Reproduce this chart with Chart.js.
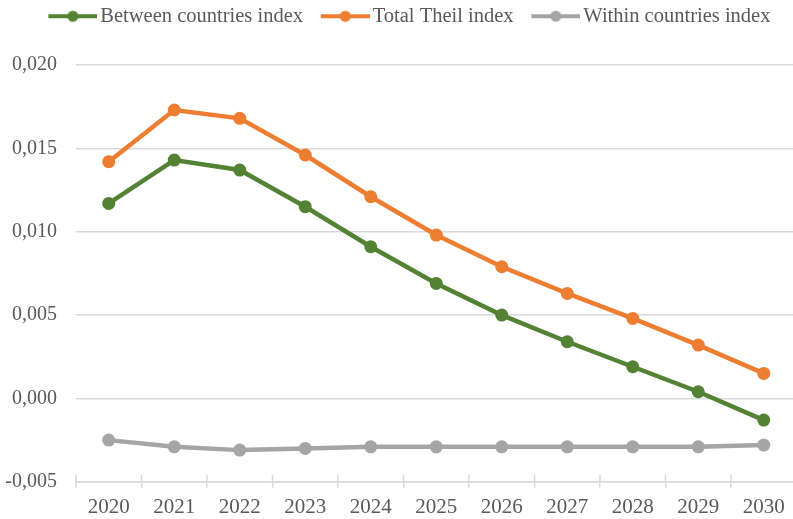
<!DOCTYPE html>
<html><head><meta charset="utf-8">
<script src="https://cdn.jsdelivr.net/npm/chart.js@4.4.0/dist/chart.umd.min.js"></script>
<style>html,body{margin:0;padding:0;background:#fff;overflow:hidden}#wrap{width:793px;height:519px;overflow:hidden}canvas{display:block}</style>
</head><body><div id="wrap"><canvas id="c" width="803" height="519"></canvas></div>
<script>
const years = ['2020','2021','2022','2023','2024','2025','2026','2027','2028','2029','2030'];
const betweenIdx = [0.0117, 0.0143, 0.0137, 0.0115, 0.0091, 0.0069, 0.0050, 0.0034, 0.0019, 0.0004, -0.0013];
const totalTheil = [0.0142, 0.0173, 0.0168, 0.0146, 0.0121, 0.0098, 0.0079, 0.0063, 0.0048, 0.0032, 0.0015];
const withinIdx = [-0.0025, -0.0029, -0.0031, -0.0030, -0.0029, -0.0029, -0.0029, -0.0029, -0.0029, -0.0029, -0.0028];
const seriesNames = ['Between countries index', 'Total Theil index', 'Within countries index'];
const colors = ['#548235', '#ED7D31', '#A5A5A5'];
const FONT = '"Liberation Serif", "Times New Roman", serif';
const TEXT = '#595959';
const GRID = '#D9D9D9';

function legendIcon(color){
  const c = document.createElement('canvas');
  c.width = 59; c.height = 14;
  const g = c.getContext('2d');
  g.strokeStyle = color; g.lineWidth = 4;
  g.beginPath(); g.moveTo(10,7); g.lineTo(59,7); g.stroke();
  g.fillStyle = color; g.beginPath(); g.arc(34.5,7,5.5,0,Math.PI*2); g.fill();
  return c;
}
const icons = colors.map(legendIcon);

const mk = (label, data, i) => ({
  label, data,
  borderColor: colors[i], backgroundColor: colors[i],
  borderWidth: 4.5, pointRadius: 6.5, pointHoverRadius: 6.5,
  pointBackgroundColor: colors[i], pointBorderWidth: 0,
  pointStyle: 'circle', tension: 0
});

const legendTweak = {
  id: 'legendTweak',
  beforeInit(chart){
    const lg = chart.legend;
    if (!lg) return;
    const origFit = lg.fit;
    lg.fit = function(){ origFit.call(this); this.height = 65; };
  },
  afterLayout(chart){
    const lg = chart.legend;
    lg.left += 4; lg.right += 4;
    lg.top -= 9; lg.bottom -= 9;
  }
};

const crossTicks = {
  id: 'crossTicks',
  afterDraw(chart){
    const s = chart.scales.x, ctx = chart.ctx;
    ctx.save(); ctx.strokeStyle = GRID; ctx.lineWidth = 1.5;
    for (let i = 0; i <= years.length; i++){
      const x = s.getPixelForValue(i - 0.5);
      ctx.beginPath(); ctx.moveTo(x, s.top - 7); ctx.lineTo(x, s.top); ctx.stroke();
    }
    ctx.restore();
  }
};

new Chart(document.getElementById('c'), {
  type: 'line',
  data: {
    labels: years,
    datasets: [mk(seriesNames[0], betweenIdx, 0), mk(seriesNames[1], totalTheil, 1), mk(seriesNames[2], withinIdx, 2)]
  },
  plugins: [legendTweak, crossTicks],
  options: {
    responsive: false, animation: false, devicePixelRatio: 1,
    layout: { padding: { left: 5, right: 0, top: 0, bottom: -8 } },
    plugins: {
      tooltip: { enabled: false },
      legend: {
        position: 'top',
        labels: {
          usePointStyle: true, pointStyleWidth: 44.5,
          generateLabels(chart){
            return chart.data.datasets.map((d,i)=>({
              text: d.label, pointStyle: icons[i], fillStyle: colors[i], strokeStyle: colors[i],
              lineWidth: 0, datasetIndex: i, hidden: false, fontColor: TEXT
            }));
          },
          color: TEXT, padding: 15,
          font: { family: FONT, size: 20.5 }
        }
      }
    },
    scales: {
      x: {
        type: 'category', offset: true,
        grid: { offset: true, drawOnChartArea: false, drawTicks: true, tickLength: 6, color: GRID, lineWidth: 1.5 },
        border: { display: true, color: GRID, width: 1.5 },
        ticks: { color: TEXT, padding: 7, maxRotation: 0,
          font: { family: FONT, size: 21 } }
      },
      y: {
        min: -0.005, max: 0.02,
        afterFit(scale){ scale.width = 71; },
        grid: { color: GRID, lineWidth: 1.5, drawTicks: false },
        border: { display: false },
        ticks: { stepSize: 0.005, color: TEXT, padding: 19,
          callback: v => (v < 0 ? '-' : '') + Math.abs(v).toFixed(3).replace('.', ','),
          font: { family: FONT, size: 20 } }
      }
    }
  }
});
</script></body></html>
